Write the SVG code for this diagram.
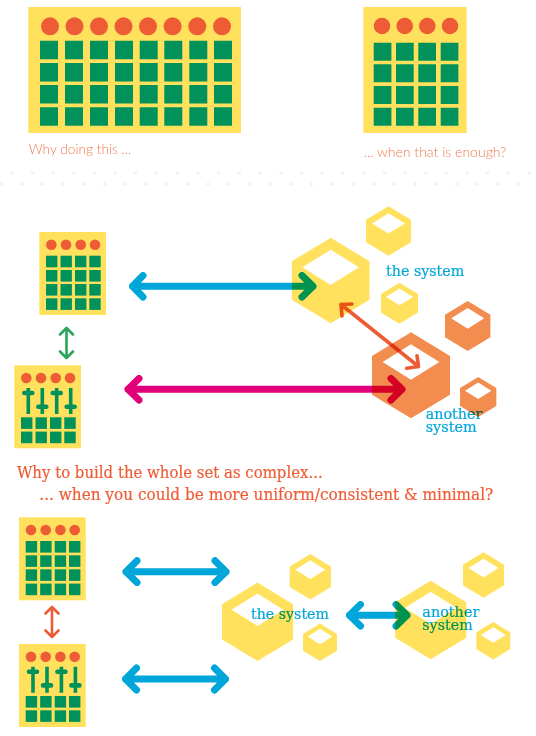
<svg xmlns="http://www.w3.org/2000/svg" xmlns:xlink="http://www.w3.org/1999/xlink" width="536" height="736" viewBox="0 0 536 736">
<style>
.y{fill:#FFE15D}.o{fill:#EE5C35}.g{fill:#00925A}
.st{fill:none;stroke:#00925A;stroke-width:3.6}.bar{fill:none;stroke:#00925A;stroke-width:4.6;stroke-linecap:round}
.hy{fill:#FFE15D;fill-rule:evenodd}.ho{fill:#F28C4F;fill-rule:evenodd}
.a{fill:none;stroke-linecap:round;stroke-linejoin:round;mix-blend-mode:multiply}
.blue{stroke:#00A6D9;stroke-width:7}.mag{stroke:#E2007A;stroke-width:7}
.or{stroke:#EE5C35;stroke-width:3.6}.or2{stroke:#EE5C35;stroke-width:2.6}.gr{stroke:#2BA55B;stroke-width:2.6}
.light{font-family:Lato,"Noto Sans",sans-serif;font-weight:300;font-size:14px;fill:#EE7A52}
.slab{font-family:"DejaVu Serif",serif;fill:#EE5C35;stroke:#EE5C35;stroke-width:.2;font-size:16px}
.lab{font-family:"DejaVu Serif",serif;fill:#00A6D9;stroke:#00A6D9;stroke-width:.2;font-size:15px;mix-blend-mode:multiply}
</style>
<defs>
<path id="hex" d="M0-1L.907-.45V.45L0 1L-.907.45V-.45ZM-.66-.307L0-.72L.66-.307L0 .105Z"/>
<g id="circ"><circle cx="12" cy="12.700" r="5.300" class="o"/><circle cx="26.700" cy="12.700" r="5.300" class="o"/><circle cx="41.400" cy="12.700" r="5.300" class="o"/><circle cx="55.700" cy="12.700" r="5.300" class="o"/></g>
<g id="row"><rect x="6.700" width="11.400" height="11.600" class="g"/><rect x="21.200" width="11.400" height="11.600" class="g"/><rect x="35.700" width="11.400" height="11.600" class="g"/><rect x="50" width="11.400" height="11.600" class="g"/></g>
<g id="panelA"><rect width="66.700" height="83" class="y"/><use xlink:href="#circ"/><use xlink:href="#row" y="23.700"/><use xlink:href="#row" y="38"/><use xlink:href="#row" y="52"/><use xlink:href="#row" y="66.300"/></g>
<g id="panelB"><rect width="66.700" height="83" class="y"/><use xlink:href="#circ"/>
<path class="st" d="M14 22.700V48.700M28 22.700V48.700M42.400 22.700V48.700M56.400 22.700V48.700"/>
<path class="bar" d="M10 27.700H18M38.400 27.700H46.400M24 41.400H32M52.400 41.400H60.400"/>
<use xlink:href="#row" y="52"/><use xlink:href="#row" y="66.300"/></g>
<pattern id="plus" x="0" y="171" width="20.700" height="22" patternUnits="userSpaceOnUse">
<path d="M9.700 2h4M11.700 0v4M-1 13h4M1 11v4M19.700 13h4" fill="none" stroke="#EAEAEA" stroke-width=".8"/>
</pattern>
</defs>

<g id="separator"><rect x="0" y="171" width="536" height="16" fill="url(#plus)"/></g>

<g id="panel-wide">
<rect x="28.300" y="7" width="212.700" height="126" class="y"/>
<g class="o"><circle cx="50" cy="26.300" r="9"/><circle cx="74.500" cy="26.300" r="9"/><circle cx="99" cy="26.300" r="9"/><circle cx="123.500" cy="26.300" r="9"/><circle cx="148" cy="26.300" r="9"/><circle cx="172.600" cy="26.300" r="9"/><circle cx="197.300" cy="26.300" r="9"/><circle cx="222" cy="26.300" r="9"/></g>
<g class="g">
<path d="M40 40.700h18v18.500h-18zM65 40.700h18v18.500h-18zM90 40.700h18v18.500h-18zM115 40.700h18v18.500h-18zM139.700 40.700h18v18.500h-18zM164.300 40.700h18v18.500h-18zM189.300 40.700h18v18.500h-18zM214 40.700h18v18.500h-18z"/>
<path d="M40 63h18v18.500h-18zM65 63h18v18.500h-18zM90 63h18v18.500h-18zM115 63h18v18.500h-18zM139.700 63h18v18.500h-18zM164.300 63h18v18.500h-18zM189.300 63h18v18.500h-18zM214 63h18v18.500h-18z"/>
<path d="M40 85h18v18.500h-18zM65 85h18v18.500h-18zM90 85h18v18.500h-18zM115 85h18v18.500h-18zM139.700 85h18v18.500h-18zM164.300 85h18v18.500h-18zM189.300 85h18v18.500h-18zM214 85h18v18.500h-18z"/>
<path d="M40 107.300h18v18.500h-18zM65 107.300h18v18.500h-18zM90 107.300h18v18.500h-18zM115 107.300h18v18.500h-18zM139.700 107.300h18v18.500h-18zM164.300 107.300h18v18.500h-18zM189.300 107.300h18v18.500h-18zM214 107.300h18v18.500h-18z"/>
</g>
</g>
<g id="panel-small">
<rect x="363.300" y="7" width="103.400" height="126" class="y"/>
<g class="o"><circle cx="382" cy="26" r="8.300"/><circle cx="404.700" cy="26" r="8.300"/><circle cx="427.300" cy="26" r="8.300"/><circle cx="450" cy="26" r="8.300"/></g>
<path class="g" d="M373.700 42.700h17.700v18h-17.700zM396 42.700h17.700v18h-17.700zM418.300 42.700h17.700v18h-17.700zM440.700 42.700h17.700v18h-17.700zM373.700 64.300h17.700v18h-17.700zM396 64.300h17.700v18h-17.700zM418.300 64.300h17.700v18h-17.700zM440.700 64.300h17.700v18h-17.700zM373.700 86h17.700v18h-17.700zM396 86h17.700v18h-17.700zM418.300 86h17.700v18h-17.700zM440.700 86h17.700v18h-17.700zM373.700 107.700h17.700v18h-17.700zM396 107.700h17.700v18h-17.700zM418.300 107.700h17.700v18h-17.700zM440.700 107.700h17.700v18h-17.700z"/>
</g>
<g id="caption-1"><text class="light" x="28.700" y="154" textLength="102.500" lengthAdjust="spacingAndGlyphs">Why doing this ...</text></g>
<g id="caption-2"><text class="light" x="363.700" y="157" textLength="142.600" lengthAdjust="spacingAndGlyphs">... when that is enough?</text></g>

<g id="mid-panel-a"><use xlink:href="#panelA" x="39.300" y="232"/></g>
<g id="mid-panel-b"><use xlink:href="#panelB" x="14.300" y="365.300"/></g>

<g id="mid-system">
<use xlink:href="#hex" class="hy" transform="translate(330.700 280.500) scale(42.800)"/>
<use xlink:href="#hex" class="hy" transform="translate(388.500 231) scale(24.800)"/>
<use xlink:href="#hex" class="hy" transform="translate(399.500 303.200) scale(20.500)"/>
</g>
<g id="mid-another">
<use xlink:href="#hex" class="ho" transform="translate(411 375.300) scale(43)"/>
<use xlink:href="#hex" class="ho" transform="translate(467.700 326) scale(25)"/>
<use xlink:href="#hex" class="ho" transform="translate(478.200 397) scale(20)"/>
</g>

<g id="bottom-panel-a"><use xlink:href="#panelA" x="19" y="517.300"/></g>
<g id="bottom-panel-b"><use xlink:href="#panelB" x="19" y="644"/></g>

<g id="bottom-system">
<use xlink:href="#hex" class="hy" transform="translate(257.500 621.800) scale(39.200)"/>
<use xlink:href="#hex" class="hy" transform="translate(310.300 576.700) scale(22.700)"/>
<use xlink:href="#hex" class="hy" transform="translate(320 642.300) scale(18.700)"/>
</g>
<g id="bottom-another">
<use xlink:href="#hex" class="hy" transform="translate(430.700 620) scale(39.200)"/>
<use xlink:href="#hex" class="hy" transform="translate(483.500 575) scale(22.700)"/>
<use xlink:href="#hex" class="hy" transform="translate(493.300 640.700) scale(18.700)"/>
</g>

<g id="connectors">
<path class="a blue" d="M143 275.500L132.500 286.300L143 297M132.500 286.300H313M302 275.500L313 286.300L302 297"/>
<path class="a mag" d="M139 378.500L128 389.300L139 400M128 389.300H402M391 378.500L402 389.300L391 400"/>
<path class="a or" d="M352 304L341 304.500L342 316M341 304.500L418.500 366.500M417 355.700L418.500 366.500L406.700 368.300"/>
<path class="a gr" d="M60 334.500L66.500 328L73 334.500M66.500 328V358M60 351.500L66.500 358L73 351.500"/>
<path class="a or2" d="M45.500 613.500L52 607L58.500 613.500M52 607V637M45.500 630.500L52 637L58.500 630.500"/>
<path class="a blue" d="M137 560.700L126 571.700L137 582.500M126 571.700H226M215 560.700L226 571.700L215 582.500"/>
<path class="a blue" d="M136.500 668L125.500 679L136.500 690M125.500 679H225.500M214.500 668L225.500 679L214.500 690"/>
<path class="a blue" d="M360.500 604.500L349.500 615.300L360.500 626M349.500 615.300H407M396 604.500L407 615.300L396 626"/>
</g>

<g id="labels">
<text class="lab" x="386" y="276" textLength="78.300" lengthAdjust="spacingAndGlyphs">the system</text>
<text class="lab"><tspan x="425.700" y="418.500" textLength="56.600" lengthAdjust="spacingAndGlyphs">another</tspan><tspan x="425.700" y="431.700" textLength="51" lengthAdjust="spacingAndGlyphs">system</tspan></text>
<text class="slab" x="17" y="478.300" textLength="305.700" lengthAdjust="spacingAndGlyphs">Why to build the whole set as complex...</text>
<text class="slab" x="39.300" y="500" textLength="454" lengthAdjust="spacingAndGlyphs">... when you could be more uniform/consistent &amp; minimal?</text>
<text class="lab" x="251" y="619" textLength="78" lengthAdjust="spacingAndGlyphs">the system</text>
<text class="lab"><tspan x="422.300" y="617" textLength="57" lengthAdjust="spacingAndGlyphs">another</tspan><tspan x="422.300" y="630" textLength="50.400" lengthAdjust="spacingAndGlyphs">system</tspan></text>
</g>
</svg>
